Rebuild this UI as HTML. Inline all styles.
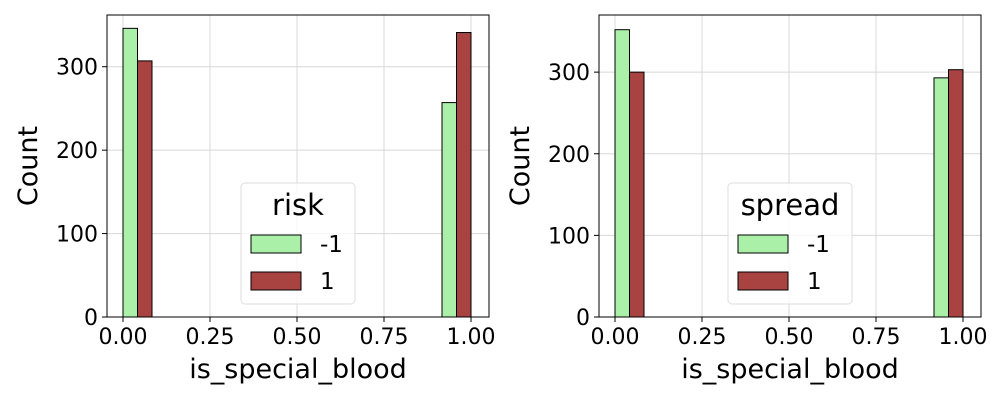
<!DOCTYPE html>
<html><head><meta charset="utf-8"><style>body{margin:0;background:#fff}svg{display:block;font-family:"DejaVu Sans","Liberation Sans",sans-serif}</style></head>
<body>
<svg id="c" width="1000" height="400"></svg>
<script>
const binStarts=[0,11/12];
const binWidth=1/12;
const riskNeg=[346,257];
const riskPos=[307,341];
const spreadNeg=[352,293];
const spreadPos=[300,303];
const xTicks=[0,0.25,0.5,0.75,1];
const xTickLabels=["0.00","0.25","0.50","0.75","1.00"];
const yTicks=[0,100,200,300];
const NS="http://www.w3.org/2000/svg";
const svg=document.getElementById('c');
function mk(t,a,p){const e=document.createElementNS(NS,t);for(const k in a)e.setAttribute(k,a[k]);(p||svg).appendChild(e);return e;}
function panel(cfg){
  const L=cfg.left,R=cfg.left+382,T=15,B=317;
  const g=mk('g',{});
  
  
  const x0=L+16,x1=R-18;
  const xs=v=>x0+v*(x1-x0);
  const ys=v=>B-v*(B-T)/cfg.ymax;
  xTicks.forEach((t,i)=>{
    const gl=mk('line',{x1:xs(t),x2:xs(t),y1:T,y2:B,stroke:'#d8d8d8','stroke-width':1},g);
    
    mk('line',{x1:xs(t),x2:xs(t),y1:B,y2:B+5,stroke:'#000'},g);
    const tx=mk('text',{x:xs(t),y:B+27,'font-size':22,'text-anchor':'middle'},g);tx.textContent=xTickLabels[i];
    
  });
  yTicks.forEach(t=>{
    const gl=mk('line',{x1:L,x2:R,y1:ys(t),y2:ys(t),stroke:'#d8d8d8','stroke-width':1},g);
    
    mk('line',{x1:L-5,x2:L,y1:ys(t),y2:ys(t),stroke:'#000'},g);
    const tx=mk('text',{x:L-9,y:ys(t)+8,'font-size':22,'text-anchor':'end'},g);tx.textContent=t;
    
  });
  binStarts.forEach((b,i)=>{
    const xa=xs(b),xm=xs(b+binWidth/2),xb=xs(b+binWidth);
    const r1=mk('rect',{x:xa,y:ys(cfg.neg[i]),width:xm-xa,height:B-ys(cfg.neg[i]),fill:'#abf0a9',stroke:'#000','stroke-width':1},g);
    
    const r2=mk('rect',{x:xm,y:ys(cfg.pos[i]),width:xb-xm,height:B-ys(cfg.pos[i]),fill:'#a84342',stroke:'#000','stroke-width':1},g);
    
  });
  const fr=mk('rect',{x:L,y:T,width:R-L,height:B-T,fill:'none',stroke:'#000','stroke-width':1},g);
  
  const xl=mk('text',{x:(L+R)/2,y:378,'font-size':27,'text-anchor':'middle'},g);xl.textContent='is_special_blood';
  
  const yl=mk('text',{x:0,y:0,'font-size':27,'text-anchor':'middle',transform:`translate(${L-70},${(T+B)/2}) rotate(-90)`},g);yl.textContent='Count';
  
  const lg=mk('g',{},g);
  
  const lx=cfg.legX,lw=cfg.legW;
  mk('rect',{x:lx,y:183,width:lw,height:121,rx:4,fill:'#fff','fill-opacity':0.8,stroke:'#ddd'},lg);
  const tt=mk('text',{x:lx+lw/2,y:215,'font-size':29,'text-anchor':'middle'},lg);tt.textContent=cfg.title;
  
  [['-1','#abf0a9',235],['1','#a84342',272]].forEach(([lab,col,yy])=>{
    const p=mk('rect',{x:lx+10,y:yy,width:50,height:18,fill:col,stroke:'#000'},lg);
    
    const t=mk('text',{x:lx+79,y:yy+17,'font-size':23},lg);t.textContent=lab;
    
  });
}
panel({name:'risk-panel',left:107,ymax:362,neg:riskNeg,pos:riskPos,title:'risk',legX:241,legW:114});
panel({name:'spread-panel',left:599,ymax:370,neg:spreadNeg,pos:spreadPos,title:'spread',legX:728,legW:124});
</script>
</body></html>
